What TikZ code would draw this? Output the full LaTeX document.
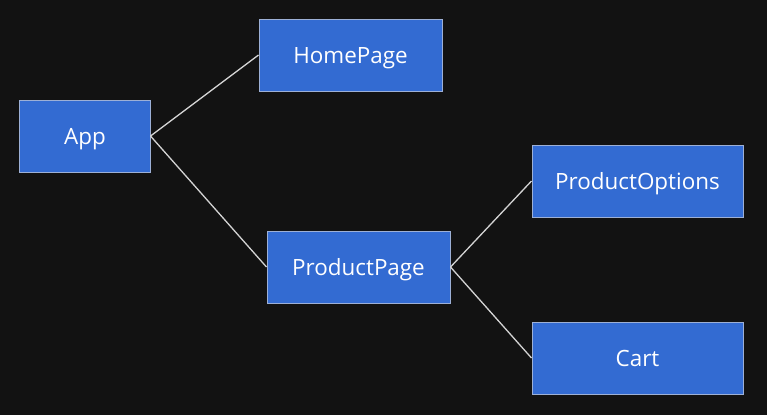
\documentclass[tikz,border=0pt]{standalone}
\usepackage{fontspec}
\setmainfont{Open Sans}
\definecolor{bgdark}{HTML}{121212}
\definecolor{boxblue}{HTML}{336BD2}
\definecolor{boxedge}{HTML}{9DB0D6}
\definecolor{linkgray}{HTML}{D4D4D4}
\begin{document}
\begin{tikzpicture}[x=1bp,y=-1bp,
  comp/.style={draw=boxedge, line width=1bp, fill=boxblue, text=white,
    font=\fontsize{22.5}{26}\selectfont, inner sep=0pt,
    text height=16bp, text depth=0bp},
  link/.style={draw=linkgray, line width=1.3bp}]
  \fill[bgdark] (0,0) rectangle (767,415);
  \useasboundingbox (0,0) rectangle (767,415);
  \node[comp, minimum width=130bp, minimum height=72bp] (app) at (85,136) {App};
  \node[comp, minimum width=183bp, minimum height=72bp] (home) at (350.5,55) {HomePage};
  \node[comp, minimum width=183bp, minimum height=72bp] (prod) at (358.5,267) {ProductPage};
  \node[comp, minimum width=211bp, minimum height=72bp] (opts) at (637.5,181) {ProductOptions};
  \node[comp, minimum width=211bp, minimum height=72bp] (cart) at (637.5,358) {Cart};
  \draw[link] (app.east) -- (home.west);
  \draw[link] (app.east) -- (prod.west);
  \draw[link] (prod.east) -- (opts.west);
  \draw[link] (prod.east) -- (cart.west);
\end{tikzpicture}
\end{document}
